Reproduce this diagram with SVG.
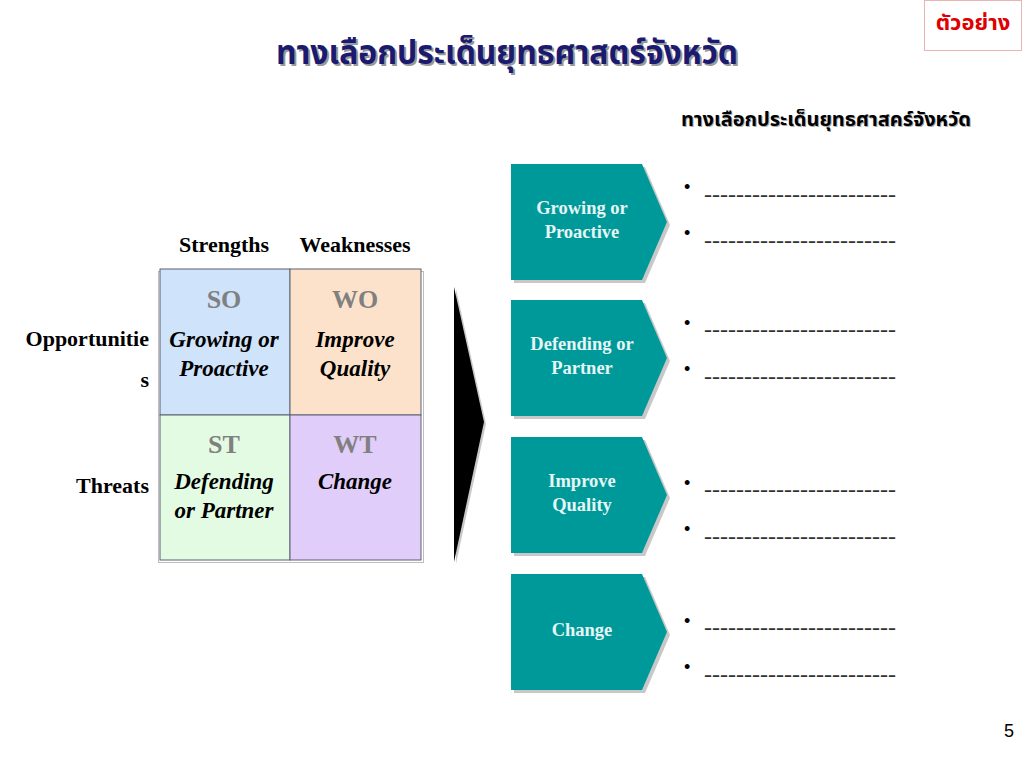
<svg xmlns="http://www.w3.org/2000/svg" width="1024" height="768" viewBox="0 0 1024 768">
<style>
.th{font-family:"Noto Sans Thai","Tahoma","DejaVu Sans","Noto Sans",sans-serif;font-weight:bold}
.lbl{font-family:"Liberation Serif",serif;font-weight:bold;font-size:22px;fill:#000}
.code{font-family:"Liberation Serif",serif;font-weight:bold;font-size:26px;fill:#808080;text-anchor:middle}
.cell{font-family:"Liberation Serif",serif;font-weight:bold;font-style:italic;font-size:23px;fill:#000;text-anchor:middle}
.chev{fill:#009999}
.shadow{fill:#c8c8c8}
.ct{font-family:"Liberation Serif",serif;font-weight:bold;font-size:18.5px;fill:#e6f5f5;text-anchor:middle}
.bul{font-family:"Liberation Sans",sans-serif;font-size:18px;fill:#000}
.dash{font-family:"Liberation Serif",serif;font-size:24px;fill:#333}
</style>
<rect width="1024" height="768" fill="#fff"/>

<g id="title">
<text x="507" y="64" class="th" font-size="34" fill="#999" text-anchor="middle" textLength="462" lengthAdjust="spacingAndGlyphs" transform="translate(2,2)">ทางเลือกประเด็นยุทธศาสตร์จังหวัด</text>
<text x="507" y="64" class="th" font-size="34" fill="#1a1a70" text-anchor="middle" textLength="462" lengthAdjust="spacingAndGlyphs">ทางเลือกประเด็นยุทธศาสตร์จังหวัด</text>
</g>

<g id="sample-tag">
<rect x="924.5" y="0.5" width="97" height="50" fill="#fff" stroke="#e8b4b4" stroke-width="1"/>
<text x="973" y="30" class="th" font-size="22" fill="#e00000" text-anchor="middle">ตัวอย่าง</text>
</g>

<g id="subtitle">
<text x="826" y="126" class="th" font-size="19" fill="#aaa" text-anchor="middle" textLength="290" lengthAdjust="spacingAndGlyphs" transform="translate(1,1)">ทางเลือกประเด็นยุทธศาสคร์จังหวัด</text>
<text x="826" y="126" class="th" font-size="19" fill="#000" text-anchor="middle" textLength="290" lengthAdjust="spacingAndGlyphs">ทางเลือกประเด็นยุทธศาสคร์จังหวัด</text>
</g>

<g id="axis-labels">
<text x="224" y="252" class="lbl" text-anchor="middle">Strengths</text>
<text x="355" y="252" class="lbl" text-anchor="middle">Weaknesses</text>
<text x="149" y="346" class="lbl" text-anchor="end">Opportunitie</text>
<text x="149" y="387" class="lbl" text-anchor="end">s</text>
<text x="149" y="493" class="lbl" text-anchor="end">Threats</text>
</g>

<g id="matrix">
<rect x="158.5" y="271.5" width="265" height="291" fill="none" stroke="#bdbdbd" stroke-width="1"/>
<g id="cell-so">
<rect x="160" y="269" width="130" height="146" fill="#cfe3fa" stroke="#5a6070" stroke-width="1"/>
<text x="224" y="308" class="code">SO</text>
<text x="224" y="347" class="cell">Growing or</text>
<text x="224" y="376" class="cell">Proactive</text>
</g>
<g id="cell-wo">
<rect x="290" y="269" width="131" height="146" fill="#fde2cb" stroke="#5a6070" stroke-width="1"/>
<text x="355" y="308" class="code">WO</text>
<text x="355" y="347" class="cell">Improve</text>
<text x="355" y="376" class="cell">Quality</text>
</g>
<g id="cell-st">
<rect x="160" y="415" width="130" height="145" fill="#e3fbe3" stroke="#5a6070" stroke-width="1"/>
<text x="224" y="453" class="code">ST</text>
<text x="224" y="489" class="cell">Defending</text>
<text x="224" y="518" class="cell">or Partner</text>
</g>
<g id="cell-wt">
<rect x="290" y="415" width="131" height="145" fill="#e0cdfa" stroke="#5a6070" stroke-width="1"/>
<text x="355" y="453" class="code">WT</text>
<text x="355" y="489" class="cell">Change</text>
</g>
</g>

<g id="connectors">
<polygon points="456,289 486,424 456,564" fill="#c8c8c8"/>
<polygon points="454,287 484,422 454,562" fill="#000"/>
</g>

<g id="chevron-1">
<polygon class="shadow" points="514,167 645,167 670,225 645,283 514,283"/>
<polygon class="chev" points="511,164 642,164 667,222 642,280 511,280"/>
<text x="582" y="214" class="ct">Growing or</text>
<text x="582" y="238" class="ct">Proactive</text>
</g>
<g id="chevron-2">
<polygon class="shadow" points="514,303 645,303 670,361 645,419 514,419"/>
<polygon class="chev" points="511,300 642,300 667,358 642,416 511,416"/>
<text x="582" y="350" class="ct">Defending or</text>
<text x="582" y="374" class="ct">Partner</text>
</g>
<g id="chevron-3">
<polygon class="shadow" points="514,440 645,440 670,498 645,556 514,556"/>
<polygon class="chev" points="511,437 642,437 667,495 642,553 511,553"/>
<text x="582" y="487" class="ct">Improve</text>
<text x="582" y="511" class="ct">Quality</text>
</g>
<g id="chevron-4">
<polygon class="shadow" points="514,577 645,577 670,635 645,693 514,693"/>
<polygon class="chev" points="511,574 642,574 667,632 642,690 511,690"/>
<text x="582" y="636" class="ct">Change</text>
</g>

<g id="bullets">
<text x="684" y="193" class="bul">•</text>
<text x="704" y="202" class="dash" textLength="192" lengthAdjust="spacingAndGlyphs">------------------------</text>
<text x="684" y="239" class="bul">•</text>
<text x="704" y="248" class="dash" textLength="192" lengthAdjust="spacingAndGlyphs">------------------------</text>
<text x="684" y="329" class="bul">•</text>
<text x="704" y="337" class="dash" textLength="192" lengthAdjust="spacingAndGlyphs">------------------------</text>
<text x="684" y="375" class="bul">•</text>
<text x="704" y="384" class="dash" textLength="192" lengthAdjust="spacingAndGlyphs">------------------------</text>
<text x="684" y="489" class="bul">•</text>
<text x="704" y="497" class="dash" textLength="192" lengthAdjust="spacingAndGlyphs">------------------------</text>
<text x="684" y="535" class="bul">•</text>
<text x="704" y="544" class="dash" textLength="192" lengthAdjust="spacingAndGlyphs">------------------------</text>
<text x="684" y="627" class="bul">•</text>
<text x="704" y="635" class="dash" textLength="192" lengthAdjust="spacingAndGlyphs">------------------------</text>
<text x="684" y="673" class="bul">•</text>
<text x="704" y="682" class="dash" textLength="192" lengthAdjust="spacingAndGlyphs">------------------------</text>
</g>

<text x="1014" y="737" font-family="Liberation Sans,sans-serif" font-size="18" fill="#000" text-anchor="end">5</text>
</svg>
